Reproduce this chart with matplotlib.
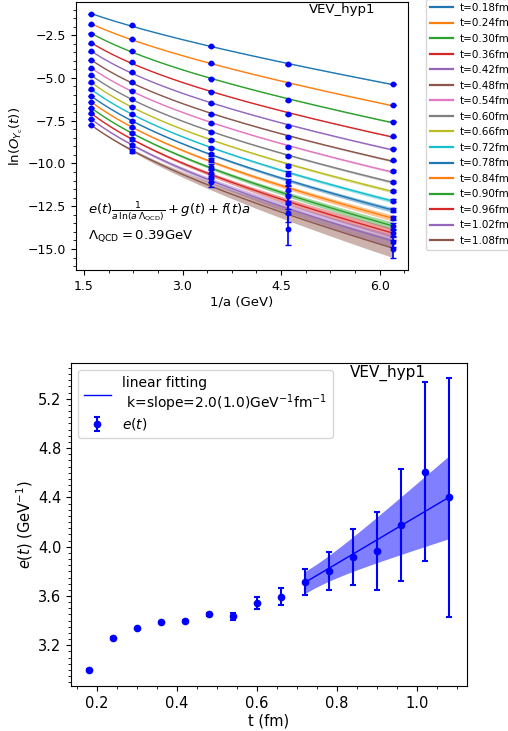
import numpy as np
import matplotlib
matplotlib.use("Agg")
import matplotlib.pyplot as plt
from matplotlib.ticker import AutoMinorLocator, MultipleLocator

# ---------------- data: top panel ----------------
inv_a = [1.61, 2.23, 3.43, 4.61, 6.20]          # 1/a (GeV)
t_labels = ["t=0.18fm", "t=0.24fm", "t=0.30fm", "t=0.36fm", "t=0.42fm", "t=0.48fm",
            "t=0.54fm", "t=0.60fm", "t=0.66fm", "t=0.72fm", "t=0.78fm", "t=0.84fm",
            "t=0.90fm", "t=0.96fm", "t=1.02fm", "t=1.08fm"]
lnO_a1 = [-1.26, -1.86, -2.42, -2.97, -3.45, -3.96, -4.43, -4.85, -5.26, -5.67, -6.06, -6.40, -6.75, -7.07, -7.41, -7.76]
lnO_a2 = [-1.93, -2.72, -3.42, -4.09, -4.68, -5.25, -5.75, -6.24, -6.69, -7.11, -7.51, -7.89, -8.24, -8.59, -8.93, -9.26]
lnO_a3 = [-3.16, -4.14, -5.05, -5.81, -6.49, -7.11, -7.66, -8.18, -8.63, -9.08, -9.45, -9.80, -10.19, -10.58, -10.85, -11.10]
lnO_a4 = [-4.21, -5.36, -6.30, -7.11, -7.83, -8.46, -9.02, -9.57, -10.13, -10.60, -11.07, -11.55, -11.90, -12.30, -12.90, -13.85]
lnO_a5 = [-5.36, -6.59, -7.56, -8.40, -9.14, -9.82, -10.46, -11.07, -11.61, -12.18, -12.72, -13.21, -13.66, -14.08, -14.57, -15.00]
err_a1 = [0.02] * 16
err_a2 = [0.02, 0.02, 0.02, 0.02, 0.02, 0.02, 0.02, 0.02, 0.03, 0.03, 0.04, 0.05, 0.06, 0.07, 0.08, 0.10]
err_a3 = [0.02, 0.02, 0.02, 0.02, 0.03, 0.03, 0.04, 0.05, 0.06, 0.07, 0.09, 0.11, 0.14, 0.17, 0.21, 0.26]
err_a4 = [0.02, 0.02, 0.03, 0.03, 0.04, 0.05, 0.06, 0.08, 0.10, 0.13, 0.17, 0.22, 0.29, 0.38, 0.50, 0.90]
err_a5 = [0.02, 0.02, 0.03, 0.03, 0.04, 0.04, 0.05, 0.06, 0.07, 0.08, 0.10, 0.12, 0.15, 0.20, 0.30, 0.50]
band_end = [0.02, 0.02, 0.03, 0.03, 0.04, 0.05, 0.06, 0.07, 0.09, 0.11, 0.14, 0.18, 0.22, 0.28, 0.38, 0.55]
Lambda_QCD = 0.39

# ---------------- data: bottom panel ----------------
t_fm = [0.18, 0.24, 0.30, 0.36, 0.42, 0.48, 0.54, 0.60, 0.66, 0.72, 0.78, 0.84, 0.90, 0.96, 1.02, 1.08]
e_t = [3.000, 3.260, 3.337, 3.386, 3.394, 3.450, 3.435, 3.543, 3.594, 3.714, 3.806, 3.914, 3.965, 4.178, 4.608, 4.400]
e_err = [0.006, 0.006, 0.006, 0.006, 0.008, 0.015, 0.026, 0.047, 0.070, 0.104, 0.154, 0.228, 0.320, 0.454, 0.728, 0.972]
fit_t0 = 0.72
fit_t1 = 1.08
fit_intercept = 3.71
fit_sigma_intercept = 0.09
fit_slope = 1.92
fit_sigma_slope = 0.90

fig = plt.figure(figsize=(5.08, 7.31), dpi=100)

# ================= top panel =================
ax1 = fig.add_axes([76 / 508, 1 - 270 / 731, 332 / 508, 268 / 731])
cols = np.array([lnO_a1, lnO_a2, lnO_a3, lnO_a4, lnO_a5]).T
errs = np.array([err_a1, err_a2, err_a3, err_a4, err_a5]).T
x = np.array(inv_a)
xd = np.linspace(x[0], x[-1], 200)


def basis(xx):
    a = 1.0 / xx
    return np.vstack([1.0 / (a * np.log(a * Lambda_QCD)), np.ones_like(xx), a]).T


colors = plt.rcParams['axes.prop_cycle'].by_key()['color']
for i in range(len(t_labels)):
    y = cols[i]
    w = 1.0 / errs[i]
    coef, *_ = np.linalg.lstsq(basis(x) * w[:, None], y * w, rcond=None)
    yd = basis(xd) @ coef
    c = colors[i % len(colors)]
    ax1.plot(xd, yd, color=c, lw=1.0, label=t_labels[i])
    hw = band_end[i] * (xd - x[0]) / (x[-1] - x[0])
    ax1.fill_between(xd, yd - hw, yd + hw, color=c, alpha=0.45, lw=0)
    ax1.errorbar(x, y, yerr=errs[i], fmt='o', color='blue', ms=3.2, capsize=2,
                 elinewidth=1.2, zorder=5)

ax1.set_xlim(1.38, 6.43)
ax1.set_ylim(-16.23, -0.56)
ax1.xaxis.set_major_locator(MultipleLocator(1.5))
ax1.xaxis.set_minor_locator(AutoMinorLocator(4))
ax1.yaxis.set_major_locator(MultipleLocator(2.5))
ax1.yaxis.set_minor_locator(AutoMinorLocator(5))
ax1.tick_params(labelsize=9)
ax1.set_xlabel("1/a (GeV)", fontsize=9.5, labelpad=2)
ax1.set_ylabel(r"$\ln(O_{Y_{\rm c}}(t))$", fontsize=9.5, labelpad=2)
ax1.text(0.70, 0.973, "VEV_hyp1", transform=ax1.transAxes, fontsize=9.5,
         ha='left', va='center')
ax1.text(0.036, 0.2175, r"$e(t)\frac{1}{a\,\ln(a\,\Lambda_{\rm QCD})}+g(t)+f(t)a$",
         transform=ax1.transAxes, fontsize=9.5, ha='left', va='center')
ax1.text(0.036, 0.127, r"$\Lambda_{\rm QCD}=0.39$GeV", transform=ax1.transAxes,
         fontsize=9.5, ha='left', va='center')
leg1 = ax1.legend(loc='upper left', bbox_to_anchor=(1.053, 1.012), fontsize=7.5,
                  frameon=True, borderaxespad=0, handlelength=2.2,
                  handletextpad=0.7, labelspacing=0.53)
for ln in leg1.get_lines():
    ln.set_linewidth(1.6)

# ================= bottom panel =================
ax2 = fig.add_axes([71 / 508, 1 - 686 / 731, 396 / 508, 323 / 731])
tf = np.linspace(fit_t0, fit_t1, 100)
yf = fit_intercept + fit_slope * (tf - fit_t0)
sf = np.sqrt(fit_sigma_intercept ** 2 + (fit_sigma_slope * (tf - fit_t0)) ** 2)
ax2.fill_between(tf, yf - sf, yf + sf, color='blue', alpha=0.5, lw=0)
ax2.plot(tf, yf, color='blue', lw=1.0,
         label="linear fitting\n k=slope=2.0(1.0)GeV$^{-1}$fm$^{-1}$")
ax2.errorbar(t_fm, e_t, yerr=e_err, fmt='o', color='blue', ms=4.5, capsize=2.5,
             elinewidth=1.5, capthick=1.5, label=r"$e(t)$")
ax2.set_xlim(0.135, 1.125)
ax2.set_ylim(2.87, 5.49)
ax2.xaxis.set_major_locator(MultipleLocator(0.2))
ax2.xaxis.set_minor_locator(AutoMinorLocator(4))
ax2.yaxis.set_major_locator(MultipleLocator(0.4))
ax2.yaxis.set_minor_locator(AutoMinorLocator(8))
ax2.tick_params(labelsize=10.5)
ax2.set_xlabel("t (fm)", fontsize=10.5, labelpad=2)
ax2.set_ylabel(r"$e(t)$ (GeV$^{-1}$)", fontsize=10.5, labelpad=2)
ax2.text(0.705, 0.969, "VEV_hyp1", transform=ax2.transAxes, fontsize=11,
         ha='left', va='center')
ax2.legend(loc='upper left', fontsize=10, framealpha=0.8, labelspacing=0.15,
           handlelength=2.0)

fig.savefig("out.png", dpi=100)
